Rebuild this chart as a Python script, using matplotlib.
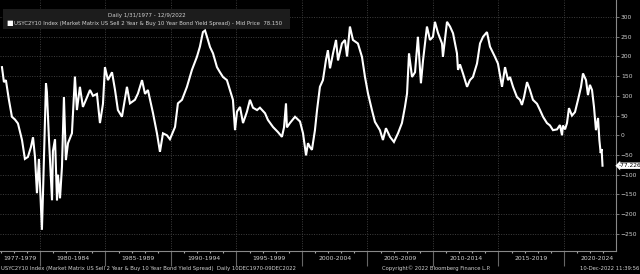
import numpy as np
import matplotlib
matplotlib.use("Agg")
import matplotlib.pyplot as plt
import matplotlib.ticker as mticker

# US 2y/10y spread (bp)
years = [
    1977.10, 1977.25, 1977.40, 1977.63, 1977.86, 1978.09, 1978.32, 1978.63, 1978.85, 1979.08,
    1979.31, 1979.47, 1979.62, 1979.77, 1979.92, 1980.15, 1980.23, 1980.46, 1980.53, 1980.69,
    1980.92, 1980.99, 1981.15, 1981.30, 1981.37, 1981.53, 1981.68, 1981.83, 1981.98, 1982.14,
    1982.44, 1982.67, 1982.82, 1983.05, 1983.28, 1983.51, 1983.82, 1984.05, 1984.35, 1984.58,
    1984.81, 1984.96, 1985.19, 1985.50, 1985.73, 1985.95, 1986.26, 1986.64, 1986.87, 1987.25,
    1987.48, 1987.79, 1988.02, 1988.24, 1988.63, 1988.93, 1989.16, 1989.39, 1989.69, 1989.92,
    1990.31, 1990.53, 1990.84, 1991.22, 1991.60, 1991.98, 1992.21, 1992.44, 1992.60, 1992.75,
    1992.98, 1993.21, 1993.51, 1993.74, 1993.97, 1994.27, 1994.50, 1994.73, 1994.89, 1995.04,
    1995.27, 1995.50, 1995.80, 1996.03, 1996.26, 1996.57, 1996.79, 1997.18, 1997.40, 1997.79,
    1998.17, 1998.47, 1998.63, 1998.78, 1998.85, 1999.08, 1999.47, 1999.85, 2000.08, 2000.31,
    2000.46, 2000.61, 2000.76, 2000.99, 2001.15, 2001.37, 2001.60, 2001.83, 2001.98, 2002.14,
    2002.37, 2002.60, 2002.75, 2003.05, 2003.28, 2003.44, 2003.66, 2003.89, 2004.27, 2004.58,
    2004.81, 2005.04, 2005.34, 2005.57, 2005.95, 2006.18, 2006.41, 2006.72, 2007.02, 2007.33,
    2007.63, 2007.86, 2008.02, 2008.17, 2008.40, 2008.63, 2008.85, 2009.08, 2009.24, 2009.54,
    2009.77, 2010.00, 2010.15, 2010.38, 2010.69, 2010.76, 2011.07, 2011.30, 2011.53, 2011.83,
    2011.91, 2012.06, 2012.29, 2012.60, 2012.82, 2013.05, 2013.36, 2013.59, 2013.82, 2014.12,
    2014.35, 2014.73, 2014.96, 2015.27, 2015.50, 2015.73, 2015.88, 2016.11, 2016.41, 2016.64,
    2016.79, 2016.95, 2017.18, 2017.40, 2017.63, 2017.94, 2018.17, 2018.40, 2018.70, 2018.93,
    2019.16, 2019.47, 2019.69, 2019.85, 2019.92, 2020.08, 2020.23, 2020.38, 2020.61, 2020.84,
    2021.07, 2021.30, 2021.45, 2021.68, 2021.83, 2021.98, 2022.14, 2022.29, 2022.44, 2022.60,
    2022.70, 2022.80, 2022.87, 2022.94,
]
spread = [
    173, 135, 140, 90, 47, 40, 30, -12, -60, -55,
    -30, -5, -55, -147, -60, -240, -150, 132, 110, -12,
    -165, -40, -10, -165, -100, -160, -80, 97, -63, -20,
    5, 149, 64, 123, 72, 90, 115, 100, 105, 31,
    80, 173, 140, 160, 115, 64, 47, 123, 81, 90,
    106, 140, 105, 115, 56, 5, -42, 5, 0, -10,
    21, 81, 90, 123, 166, 199, 225, 262, 266, 250,
    224, 208, 173, 160, 148, 140, 115, 90, 13, 60,
    72, 31, 60, 90, 70, 64, 70, 56, 39, 21,
    8, -4, 20, 81, 20, 31, 47, 35, 5, -51,
    -20, -30, -37, 13, 64, 123, 140, 191, 216, 170,
    208, 242, 190, 233, 242, 200, 276, 242, 233, 199,
    148, 106, 64, 34, 13, -12, 18, -4, -17, 5,
    31, 72, 106, 208, 148, 160, 250, 132, 190, 276,
    242, 250, 288, 260, 233, 199, 288, 276, 259, 208,
    166, 180, 157, 123, 140, 148, 182, 233, 250, 262,
    225, 199, 182, 123, 173, 140, 148, 123, 97, 90,
    77, 97, 135, 115, 90, 80, 64, 47, 31, 25,
    13, 15, 26, 0, 25, 15, 31, 69, 50, 59,
    90, 123, 157, 140, 102, 128, 115, 72, 13, 44,
    -12, -45, -35, -77.226,
]

yticks = [-250, -200, -150, -100, -50, 0, 50, 100, 150, 200, 250, 300]
period_starts = [1980, 1985, 1990, 1995, 2000, 2005, 2010, 2015, 2020]
period_labels = ["1977-1979", "1980-1984", "1985-1989", "1990-1994", "1995-1999",
                 "2000-2004", "2005-2009", "2010-2014", "2015-2019", "2020-2024"]
period_centers = [1978.45, 1982.5, 1987.5, 1992.5, 1997.5,
                  2002.5, 2007.5, 2012.5, 2017.5, 2022.5]
last_value = spread[-1]

FONT = ["DejaVu Sans"]
TXT = "#d0d0d0"
GRID = "#3e3e3e"

fig = plt.figure(figsize=(6.4, 2.74), dpi=100, facecolor="black")
ax = fig.add_axes([0.0, 0.084, 0.9625, 0.916], facecolor="black")

ax.plot(years, spread, color="white", linewidth=1.5, solid_joinstyle="miter")

ax.set_xlim(1976.95, 2023.97)
ax.set_ylim(-293.7, 343.4)

# y axis on the right
ax.yaxis.tick_right()
ax.set_yticks(yticks)
ax.tick_params(axis="y", direction="out", length=2.5, width=0.6, color="#888888",
               labelcolor=TXT, labelsize=4.3, pad=1)
for lbl in ax.get_yticklabels():
    lbl.set_family(FONT)

# x axis: yearly minor ticks, 5-year separators, centred period labels
ax.xaxis.set_major_locator(mticker.FixedLocator(period_starts))
ax.xaxis.set_minor_locator(mticker.MultipleLocator(1))
ax.tick_params(axis="x", which="major", direction="out", length=11, width=0.8,
               color="#666666", labelbottom=False)
ax.tick_params(axis="x", which="minor", direction="out", length=1.5, width=0.8,
               color="#aaaaaa")
for c, lab in zip(period_centers, period_labels):
    ax.text(c, -0.018, lab, transform=ax.get_xaxis_transform(), ha="center",
            va="top", fontsize=4.4, color=TXT, family=FONT)

ax.grid(True, which="major", color=GRID, linestyle=(0, (1, 1.5)), linewidth=0.7)

for side in ["top", "left"]:
    ax.spines[side].set_visible(False)
ax.spines["right"].set_color("#888888")
ax.spines["right"].set_linewidth(0.8)
ax.spines["bottom"].set_color("#888888")
ax.spines["bottom"].set_linewidth(0.8)

# legend box
ax.add_patch(plt.Rectangle((0.005, 0.885), 0.466, 0.08, transform=ax.transAxes,
                           facecolor="#1c1c1c", edgecolor="none", zorder=3))
ax.text(0.239, 0.94, "Daily 1/31/1977 - 12/9/2022", transform=ax.transAxes,
        ha="center", va="center", fontsize=4.0, color=TXT, family=FONT, zorder=4)
ax.text(0.011, 0.907, "\u25a0", transform=ax.transAxes, ha="left", va="center",
        fontsize=5, color="white", family=["DejaVu Sans"], zorder=4)
ax.text(0.023, 0.907,
        "USYC2Y10 Index (Market Matrix US Sell 2 Year & Buy 10 Year Bond Yield Spread) - Mid Price  78.150",
        transform=ax.transAxes, ha="left", va="center", fontsize=3.9, color=TXT,
        family=FONT, zorder=4)

# last value tag
ax.annotate(f"{last_value:.3f}", xy=(1.0, last_value), xycoords=("axes fraction", "data"),
            xytext=(2, 0), textcoords="offset points", ha="left", va="center",
            fontsize=4.2, color="black", family=FONT, annotation_clip=False,
            bbox=dict(boxstyle="larrow,pad=0.12", facecolor="white", edgecolor="none"))

# footer
fig.text(0.001, 0.012,
         "USYC2Y10 Index (Market Matrix US Sell 2 Year & Buy 10 Year Bond Yield Spread)  Daily 10DEC1970-09DEC2022",
         ha="left", va="bottom", fontsize=3.8, color=TXT, family=FONT)
fig.text(0.682, 0.012, "Copyright\u00a9 2022 Bloomberg Finance L.P.", ha="center",
         va="bottom", fontsize=3.8, color=TXT, family=FONT)
fig.text(0.999, 0.012, "10-Dec-2022 11:39:56", ha="right", va="bottom",
         fontsize=3.8, color=TXT, family=FONT)

fig.savefig("out.png", dpi=100, facecolor="black")
plt.close(fig)
